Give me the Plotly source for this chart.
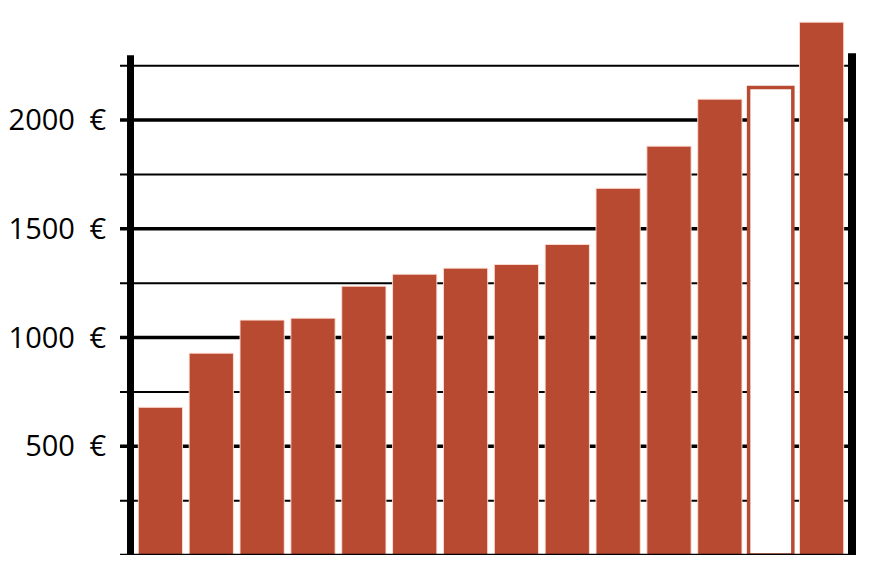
import plotly.graph_objects as go

categories = [f"Kat {i}" for i in range(1, 15)]
values = [679, 928, 1080, 1089, 1236, 1291, 1319, 1336, 1428, 1686, 1880, 2096, 2150, 2450]
hollow = [False] * 12 + [True, False]
tick_values = [500, 1000, 1500, 2000]
tick_labels = ["500\u2002€", "1000\u2002€", "1500\u2002€", "2000\u2002€"]
grid_values = [250, 500, 750, 1000, 1250, 1500, 1750, 2000, 2250]

RED = "#B74A30"

fill_colors = ["white" if h else RED for h in hollow]
line_colors = [RED if h else "rgba(255,225,215,0.9)" for h in hollow]
line_widths = [3.5 if h else 1 for h in hollow]

fig = go.Figure()
fig.add_trace(go.Bar(
    x=categories, y=values,
    marker=dict(color=fill_colors, line=dict(color=line_colors, width=line_widths)),
    width=0.87,
    hoverinfo="skip",
))

W, H = 872, 579
OFF = 8  # page body margin
ml, mr, mt, mb = 127, 33, 12, 32
pw = W - ml - mr


def px2paper(px):
    return (px - OFF - ml) / pw


shapes = []
for v in grid_values:
    shapes.append(dict(type="line", xref="paper", yref="y",
                       x0=px2paper(120), x1=px2paper(852), y0=v, y1=v,
                       line=dict(color="black", width=3.5 if v % 500 == 0 else 2),
                       layer="below"))
# left axis
shapes.append(dict(type="line", xref="paper", yref="y",
                   x0=px2paper(130.5), x1=px2paper(130.5), y0=-12, y1=2298,
                   line=dict(color="black", width=7), layer="above"))
# right axis
shapes.append(dict(type="line", xref="paper", yref="y",
                   x0=px2paper(852), x1=px2paper(852), y0=-12, y1=2307,
                   line=dict(color="black", width=8), layer="above"))
# bottom axis
shapes.append(dict(type="line", xref="paper", yref="y",
                   x0=px2paper(120), x1=px2paper(856), y0=-3.7, y1=-3.7,
                   line=dict(color="black", width=4), layer="above"))

fig.update_layout(
    width=W, height=H,
    margin=dict(l=ml, r=mr, t=mt, b=mb, autoexpand=False),
    paper_bgcolor="white", plot_bgcolor="white",
    showlegend=False,
    shapes=shapes,
    font=dict(family="Open Sans", color="black"),
    xaxis=dict(range=[-0.5, 13.5], showticklabels=False, showgrid=False,
               zeroline=False, showline=False, ticks="", automargin=False),
    yaxis=dict(range=[0, 2460], tickvals=tick_values, ticktext=tick_labels,
               tickfont=dict(family="Open Sans", size=29, color="black"),
               showgrid=False, zeroline=False, showline=False, ticks="",
               ticklabelstandoff=28, automargin=False),
)

fig.write_html("out.html")
